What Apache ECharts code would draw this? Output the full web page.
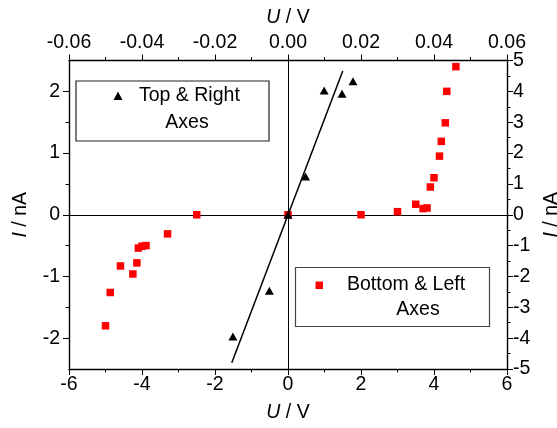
<!DOCTYPE html>
<html>
<head>
<meta charset="utf-8">
<script src="https://cdn.jsdelivr.net/npm/echarts@6/dist/echarts.min.js"></script>
<style>
  html, body { margin: 0; padding: 0; background: #fff; }
  #chart { width: 557px; height: 428px; }
</style>
</head>
<body>
<div id="chart"></div>
<script>
// bottom & left axes: U in V, I in nA
const bottomLeftPoints = [
  [-5.0, -1.80], [-4.87, -1.26], [-4.59, -0.83], [-4.25, -0.96], [-4.14, -0.78],
  [-4.10, -0.54], [-4.0, -0.51], [-3.89, -0.50], [-3.30, -0.31], [-2.5, 0],
  [0, 0], [2.0, 0], [3.0, 0.05], [3.5, 0.17], [3.70, 0.10], [3.81, 0.11],
  [3.90, 0.45], [4.0, 0.60], [4.15, 0.95], [4.20, 1.19], [4.31, 1.49],
  [4.35, 2.0], [4.60, 2.40]
];
// top & right axes
const topRightPoints = [
  [-0.0151, -3.95], [-0.0051, -2.46], [0, 0], [0.0048, 1.24],
  [0.0099, 4.03], [0.0148, 3.92], [0.0178, 4.33]
];
const fitLine = [[-0.0154, -4.8], [0.0150, 4.66]];

const leftLabels = [-2, -1, 0, 1, 2];

const FONT = "'Liberation Sans', Arial, Helvetica, sans-serif";
const FS = 19.5;

const chart = echarts.init(document.getElementById('chart'), null, { renderer: 'canvas' });

const axisCommon = {
  axisLine: { show: true, onZero: false, lineStyle: { color: '#000', width: 1.4 } },
  axisTick: { show: true, inside: false, length: 6, lineStyle: { color: '#000', width: 1 } },
  minorTick: { show: true, splitNumber: 2, length: 3.5, lineStyle: { color: '#000', width: 1 } },
  splitLine: { show: false },
  axisLabel: { color: '#000', fontSize: FS, fontFamily: FONT },
  nameLocation: 'middle',
  nameTextStyle: {
    color: '#000', fontSize: FS, fontFamily: FONT,
    rich: { i: { fontStyle: 'italic', fontSize: FS, fontFamily: FONT, color: '#000' } }
  }
};

const option = {
  animation: false,
  backgroundColor: '#fff',
  grid: { left: 69, right: 50, top: 60.5, bottom: 59, containLabel: false, outerBoundsMode: 'none' },
  xAxis: [
    Object.assign({}, axisCommon, {
      type: 'value', position: 'bottom', min: -6, max: 6, interval: 2,
      name: '{i|U} / V', nameGap: 34,
      axisLabel: Object.assign({}, axisCommon.axisLabel, { margin: 6 })
    }),
    Object.assign({}, axisCommon, {
      type: 'value', position: 'top', min: -0.06, max: 0.06, interval: 0.02,
      name: '{i|U} / V', nameGap: 33,
      axisLabel: Object.assign({}, axisCommon.axisLabel, {
        margin: 8,
        formatter: v => (Math.abs(v) < 1e-9 ? 0 : v).toFixed(2)
      })
    })
  ],
  yAxis: [
    Object.assign({}, axisCommon, {
      type: 'value', position: 'left', min: -2.5, max: 2.5, splitNumber: 5,
      name: '{i|I} / nA', nameGap: 38, nameRotate: 90,
      axisTick: Object.assign({}, axisCommon.axisTick, { customValues: leftLabels }),
      axisLabel: Object.assign({}, axisCommon.axisLabel, {
        margin: 9,
        customValues: leftLabels,
        formatter: v => (Number.isInteger(v) ? String(v) : '')
      })
    }),
    Object.assign({}, axisCommon, {
      type: 'value', position: 'right', min: -5, max: 5, interval: 1,
      name: '{i|I} / nA', nameGap: 27, nameRotate: 90,
      axisLabel: Object.assign({}, axisCommon.axisLabel, { margin: 6 })
    })
  ],
  series: [
    {
      name: 'Bottom & Left Axes',
      type: 'scatter',
      xAxisIndex: 0, yAxisIndex: 0,
      symbol: 'rect', symbolSize: 7.5,
      itemStyle: { color: '#ff0000', opacity: 1 },
      data: bottomLeftPoints,
      z: 3,
      markLine: {
        silent: true,
        symbol: 'none',
        label: { show: false },
        lineStyle: { color: '#000', width: 1, type: 'solid' },
        data: [{ xAxis: 0 }, { yAxis: 0 }],
        z: 1
      }
    },
    {
      name: 'fit',
      type: 'line',
      xAxisIndex: 1, yAxisIndex: 1,
      symbol: 'none',
      lineStyle: { color: '#000', width: 1.5 },
      data: fitLine,
      z: 4
    },
    {
      name: 'Top & Right Axes',
      type: 'scatter',
      xAxisIndex: 1, yAxisIndex: 1,
      symbol: 'triangle', symbolSize: [9, 8],
      itemStyle: { color: '#000', opacity: 1 },
      data: topRightPoints,
      z: 5
    }
  ],
  graphic: [
    // legend box for the top & right axes
    { type: 'rect', shape: { x: 76, y: 81, width: 193, height: 60 },
      style: { fill: '#fff', stroke: '#222', lineWidth: 1.2 }, z: 10 },
    { type: 'polygon', shape: { points: [[118, 91.5], [122.5, 100], [113.5, 100]] },
      style: { fill: '#000' }, z: 11 },
    { type: 'text', x: 139, y: 96, z: 11,
      style: { text: 'Top & Right', font: FS + 'px ' + FONT, fill: '#000', verticalAlign: 'middle' } },
    { type: 'text', x: 187, y: 123, z: 11,
      style: { text: 'Axes', font: FS + 'px ' + FONT, fill: '#000', align: 'center', verticalAlign: 'middle' } },
    // legend box for the bottom & left axes
    { type: 'rect', shape: { x: 295.5, y: 267.5, width: 194, height: 59 },
      style: { fill: '#fff', stroke: '#444', lineWidth: 1.2 }, z: 10 },
    { type: 'rect', shape: { x: 315.5, y: 281.5, width: 7.5, height: 7.5 },
      style: { fill: '#ff0000' }, z: 11 },
    { type: 'text', x: 347, y: 285, z: 11,
      style: { text: 'Bottom & Left', font: FS + 'px ' + FONT, fill: '#000', verticalAlign: 'middle' } },
    { type: 'text', x: 418, y: 310, z: 11,
      style: { text: 'Axes', font: FS + 'px ' + FONT, fill: '#000', align: 'center', verticalAlign: 'middle' } }
  ]
};

chart.setOption(option);
</script>
</body>
</html>
